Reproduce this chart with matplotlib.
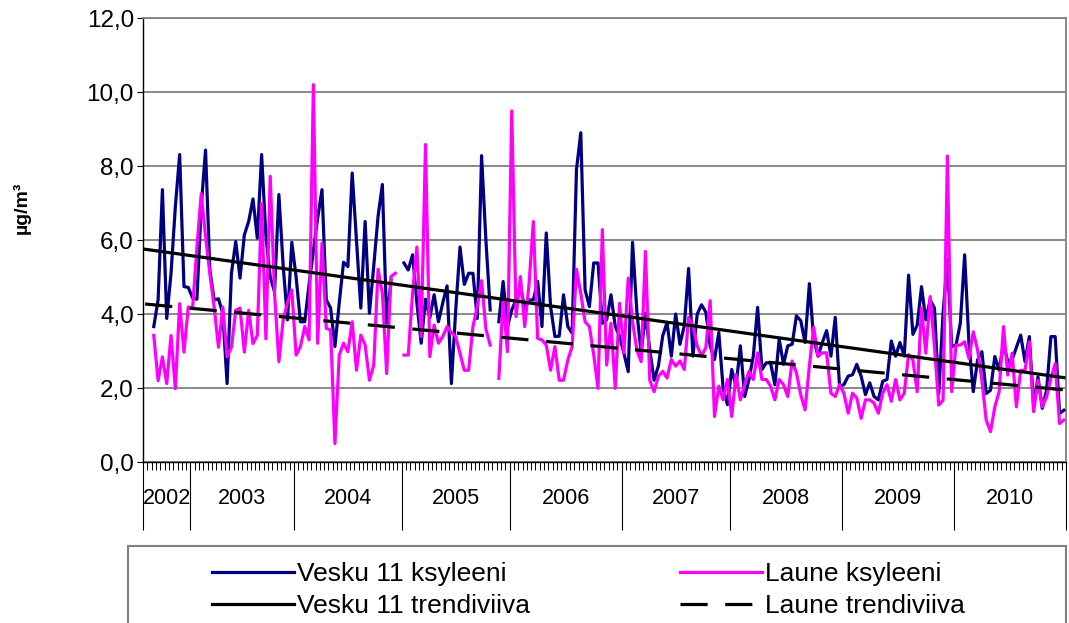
import numpy as np
import matplotlib
matplotlib.use('Agg')
import matplotlib.pyplot as plt
from matplotlib.transforms import blended_transform_factory
from matplotlib.patches import Rectangle
from matplotlib.ticker import FuncFormatter, FixedLocator

nan = np.nan

years = ['2002', '2003', '2004', '2005', '2006', '2007', '2008', '2009', '2010']

# Vesku 11 ksyleeni (µg/m3), one value per sampling period, grouped by year
vesku_2002 = [nan, nan, 3.66, 4.38, 7.36, 3.88, 5.1, 6.9, 8.31, 4.74, 4.72]
vesku_2003 = [4.43, 4.4, 6.9, 8.43, 5.19, 4.38, 4.41, 4.02, 2.12, 5.1, 5.96, 4.97,
              6.14, 6.5, 7.11, 6.05, 8.31, 6.1, 5.0, 4.6, 7.23, 5.3, 3.84, 5.94]
vesku_2004 = [5.0, 3.79, 3.79, 4.8, 5.7, 6.6, 7.36, 4.38, 4.16, 3.12, 4.3, 5.4, 5.28,
              7.81, 6.0, 4.16, 6.5, 4.02, 5.3, 6.64, 7.5, 3.75, 4.92, nan, nan]
vesku_2005 = [5.38, 5.19, 5.6, 4.3, 3.21, 4.4, 3.9, 4.52, 3.79, 4.3, 4.76, 2.12, 4.1,
              5.81, 4.8, 5.1, 5.1, 3.88, 8.28, 6.0, 4.11, nan, 3.79, 4.88, 3.66]
vesku_2006 = [4.11, 4.38, 4.74, 4.16, 4.38, 4.38, 4.88, 3.66, 6.19, 4.2, 3.39, 3.4, 4.52,
              3.66, 3.48, 7.9, 8.9, 4.65, 4.2, 5.38, 5.38, 3.75, 3.84, 4.52, 3.66, 3.39]
vesku_2007 = [2.94, 2.44, 5.94, 4.07, 2.94, 4.02, 3.03, 2.21, 2.6, 3.41, 3.77, 2.86, 4.0,
              3.18, 3.68, 5.23, 2.86, 4.0, 4.25, 4.05, 3.14, 2.77, 3.5, 2.0, 1.55]
vesku_2008 = [2.5, 2.05, 3.14, 1.77, 2.23, 2.86, 4.18, 2.5, 2.68, 2.68, 2.09, 3.32, 2.64,
              3.14, 3.18, 3.95, 3.82, 3.23, 4.82, 3.32, 2.86, 3.23, 3.55, 2.86, 3.91, 2.05]
vesku_2009 = [2.09, 2.32, 2.36, 2.64, 2.32, 1.82, 2.14, 1.77, 1.68, 2.18, 2.23, 3.27, 2.86,
              3.23, 2.86, 5.05, 3.45, 3.7, 4.74, 3.84, 4.38, 4.16, 1.85, 4.02, 5.47, 3.12]
vesku_2010 = [3.16, 3.75, 5.6, 3.21, 1.9, 2.76, 2.98, 1.85, 1.94, 2.85, 2.48, 3.21, 2.71,
              2.76, 3.1, 3.43, 2.71, 3.39, 1.49, 2.3, 1.45, 1.94, 3.39, 3.39, 1.31, 1.4]

# Laune ksyleeni (µg/m3)
laune_2002 = [nan, nan, 3.42, 2.2, 2.84, 2.12, 3.42, 1.98, 4.28, 2.97, 4.19]
laune_2003 = [4.16, 5.8, 7.25, 6.1, 5.09, 4.19, 3.1, 4.19, 2.84, 3.1, 4.1, 4.16,
              2.97, 4.1, 3.2, 3.42, 6.98, 3.33, 7.72, 4.56, 2.71, 3.84, 4.3, 4.65]
laune_2004 = [2.89, 3.12, 3.66, 3.3, 10.2, 3.21, 5.92, 3.61, 3.57, 0.5, 2.89, 3.21, 2.98,
              3.79, 2.48, 3.43, 3.16, 2.21, 2.62, 5.21, 4.56, 2.39, 5.01, 5.1, nan]
laune_2005 = [2.89, 2.89, 4.56, 5.81, 3.39, 8.58, 2.85, 3.7, 3.21, 3.39, 3.66, 3.5, 3.39,
              2.94, 2.48, 2.48, 3.66, 4.2, 4.9, 3.6, 3.16, nan, 2.26, 4.38, 2.98]
laune_2006 = [9.49, 3.93, 5.01, 3.66, 4.8, 6.5, 3.34, 3.3, 3.16, 2.48, 3.12, 2.21, 2.21,
              2.76, 3.12, 5.21, 4.56, 3.79, 3.66, 2.9, 1.99, 6.28, 2.62, 3.75, 1.99, 4.29]
laune_2007 = [2.94, 4.97, 3.8, 3.03, 2.71, 5.69, 2.21, 1.9, 2.32, 2.45, 2.27, 2.77, 2.59,
              2.73, 2.5, 3.91, 3.68, 3.14, 2.86, 3.09, 4.36, 1.23, 2.05, 1.68, 2.23]
laune_2008 = [1.23, 2.36, 1.68, 2.09, 2.45, 2.23, 2.95, 2.23, 2.23, 2.05, 1.68, 2.23, 2.09,
              1.77, 2.73, 2.41, 1.82, 1.41, 2.59, 3.64, 2.86, 2.95, 2.95, 1.86, 1.77, 2.09]
laune_2009 = [1.86, 1.32, 1.86, 1.73, 1.18, 1.68, 1.68, 1.59, 1.32, 1.86, 2.09, 1.64, 2.23,
              1.68, 1.86, 2.9, 2.76, 1.9, 4.16, 2.94, 4.47, 3.12, 1.54, 1.67, 8.27, 1.9]
laune_2010 = [3.16, 3.16, 3.25, 2.8, 3.52, 3.03, 2.21, 1.13, 0.82, 1.49, 1.9, 3.66, 2.35,
              2.94, 1.49, 2.48, 2.48, 3.25, 1.36, 2.21, 1.49, 1.76, 2.26, 2.66, 1.04, 1.13]

# Linear trend lines (value at first and last sampling period)
vesku_trend = [5.75, 2.28]
laune_trend = [4.27, 1.95]

vesku_years = [vesku_2002, vesku_2003, vesku_2004, vesku_2005, vesku_2006,
               vesku_2007, vesku_2008, vesku_2009, vesku_2010]
laune_years = [laune_2002, laune_2003, laune_2004, laune_2005, laune_2006,
               laune_2007, laune_2008, laune_2009, laune_2010]

vesku = np.array(sum(vesku_years, []), dtype=float)
laune = np.array(sum(laune_years, []), dtype=float)
counts = [len(v) for v in vesku_years]
N = len(vesku)
x = np.arange(N)

plt.rcParams['font.family'] = ['Liberation Sans', 'DejaVu Sans']

W, H = 1069, 623
fig = plt.figure(figsize=(W / 100, H / 100), dpi=100)
fig.patch.set_facecolor('white')
ax = fig.add_axes([143 / W, 1 - 462 / H, 923 / W, 444 / H])

NAVY = '#000080'
MAGENTA = '#FF00FF'
LW = 2.3

l1, = ax.plot(x, vesku, color=NAVY, lw=LW, zorder=3, label='Vesku 11 ksyleeni')
l2, = ax.plot(x, laune, color=MAGENTA, lw=LW, zorder=4, label='Laune ksyleeni')
l3, = ax.plot([x[0], x[-1]], vesku_trend, color='black', lw=LW, zorder=5,
              label='Vesku 11 trendiviiva')
l4, = ax.plot([x[0], x[-1]], laune_trend, color='black', lw=LW, zorder=5,
              linestyle=(0, (8.5, 5.5)), label='Laune trendiviiva')

ax.set_xlim(-0.5, N - 0.5)
ax.set_ylim(0, 12)

# y axis
ax.set_yticks(np.arange(0, 12.1, 2))
ax.yaxis.set_major_formatter(FuncFormatter(lambda v, p: f"{v:.1f}".replace('.', ',')))
ax.tick_params(axis='y', direction='out', length=4.5, width=0.8, pad=2, labelsize=17.5,
               colors='black')
ax.yaxis.grid(True, color='#808080', lw=1.3)
ax.set_axisbelow(True)

# x axis: category ticks + year separators
bounds = np.concatenate([[0], np.cumsum(counts)]) - 0.5
ax.xaxis.set_major_locator(FixedLocator(bounds))
ax.xaxis.set_minor_locator(FixedLocator(np.arange(N + 1) - 0.5))
ax.tick_params(axis='x', which='major', direction='out', length=49, width=0.8,
               labelbottom=False, colors='black')
ax.tick_params(axis='x', which='minor', direction='out', length=5.8, width=0.7,
               colors='black')

trans = blended_transform_factory(ax.transData, ax.transAxes)
for i, yr in enumerate(years):
    cx = (bounds[i] + bounds[i + 1]) / 2
    ax.text(cx, (462 - 498) / 444, yr, transform=trans, ha='center', va='center',
            fontsize=15.5)

for s in ['left', 'bottom']:
    ax.spines[s].set_color('black')
    ax.spines[s].set_linewidth(1.0)
for s in ['top', 'right']:
    ax.spines[s].set_color('#808080')
    ax.spines[s].set_linewidth(1.3)

fig.text(22 / W, 1 - 208 / H, 'µg/m³', rotation=90, fontweight='bold', fontsize=14,
         ha='center', va='center')

# legend box
fig.patches.append(Rectangle((128 / W, -0.05), (1066 - 128) / W, (623 - 546) / H + 0.05,
                             transform=fig.transFigure, fill=False,
                             edgecolor='#808080', lw=1.5))

leg_kw = dict(frameon=False, fontsize=19, handlelength=3.1, handletextpad=0.12,
              labelspacing=0.3, borderpad=0, borderaxespad=0, loc='upper left')
leg1 = ax.legend(handles=[l1, l3], bbox_to_anchor=(212 / W, 1 - 562 / H),
                 bbox_transform=fig.transFigure, **leg_kw)
ax.add_artist(leg1)
leg2 = ax.legend(handles=[l2, l4], bbox_to_anchor=(680 / W, 1 - 562 / H),
                 bbox_transform=fig.transFigure, **leg_kw)

fig.savefig('out.png', dpi=100)
